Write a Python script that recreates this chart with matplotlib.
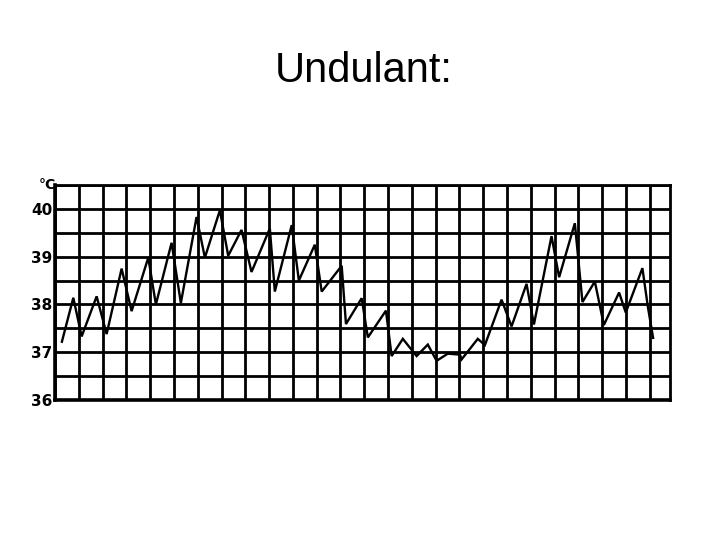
import numpy as np
import matplotlib
matplotlib.use('Agg')
import matplotlib.pyplot as plt

# temperature chart, undulant fever
# x is in day columns of the chart grid, temp in deg C
day = [0.29, 0.77, 1.12, 1.75, 2.17, 2.80, 3.22, 3.92, 4.24, 4.90,
       5.29, 5.95, 6.30, 6.93, 7.28, 7.84, 8.26, 9.03, 9.24, 9.95,
       10.25, 10.92, 11.21, 12.05, 12.23, 12.89, 13.15, 13.91, 14.15, 14.62,
       15.20, 15.67, 16.04, 16.51, 17.02, 17.09, 17.77, 18.07, 18.77, 19.19,
       19.82, 20.13, 20.87, 21.19, 21.85, 22.17, 22.69, 23.07, 23.71, 23.99,
       24.69, 24.92, 25.14]
temp = [37.22, 38.14, 37.33, 38.17, 37.38, 38.75, 37.86, 38.98, 38.0, 39.29,
        38.03, 39.83, 38.98, 39.97, 39.02, 39.56, 38.68, 39.59, 38.27, 39.66,
        38.5, 39.25, 38.27, 38.81, 37.59, 38.13, 37.31, 37.87, 36.92, 37.28,
        36.92, 37.16, 36.82, 36.97, 36.95, 36.85, 37.28, 37.15, 38.1, 37.54,
        38.43, 37.58, 39.43, 38.57, 39.7, 38.05, 38.48, 37.57, 38.25, 37.83,
        38.76, 37.95, 37.3]

ytick_vals = [36, 37, 38, 39, 40]
ytick_labels = ['36', '37', '38', '39', '40']
n_days = 25
x_end = 25.85
y_top = 40.5

fig = plt.figure(figsize=(7.28, 5.46), dpi=100)
ax = fig.add_axes([55/728, 1-400/546, 615/728, 215/546])

# grid of the chart paper
ax.vlines(np.arange(0, n_days + 1), 36, y_top, color='black', lw=2.0)
ax.hlines(np.arange(36, y_top + 0.01, 0.5), 0, x_end, color='black', lw=2.0)

ax.plot(day, temp, color='black', lw=1.7, solid_joinstyle='miter')

ax.set_xlim(0, x_end)
ax.set_ylim(36, y_top)
ax.set_xticks([])
ax.set_yticks(ytick_vals)
ax.set_yticklabels(ytick_labels, fontsize=11, fontweight='bold', family='Liberation Sans Narrow')
ax.tick_params(axis='y', length=0, pad=2)
for s in ax.spines.values():
    s.set_linewidth(2.0)
ax.spines['left'].set_linewidth(2.6)
ax.spines['bottom'].set_linewidth(2.6)

fig.text(47/728, 1-185/546, '°C', ha='center', va='center', fontsize=10,
         fontweight='bold', family='Liberation Sans Narrow')
fig.text(0.5, 1-82/546, 'Undulant:', ha='center', va='baseline',
         fontsize=30, family='Liberation Sans')

fig.savefig('out.png', dpi=100)
